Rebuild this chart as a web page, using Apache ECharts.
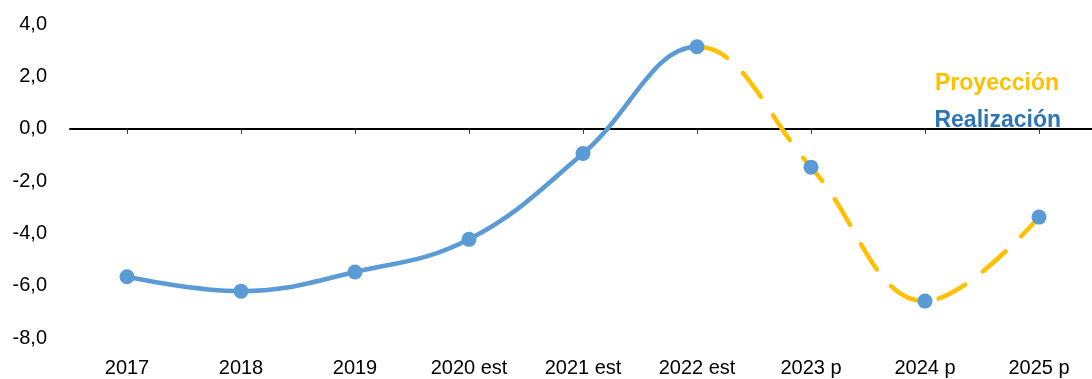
<!DOCTYPE html>
<html>
<head>
<meta charset="utf-8">
<script src="https://cdn.jsdelivr.net/npm/echarts@6/dist/echarts.min.js"></script>
<style>
  html, body { margin: 0; padding: 0; background: #fff; }
  #chart { width: 1092px; height: 379px; }
</style>
</head>
<body>
<div id="chart"></div>
<script>
// Categories and values (one continuous curve: realised part, then projection)
const categories = ['2017', '2018', '2019', '2020 est', '2021 est', '2022 est', '2023 p', '2024 p', '2025 p'];
const values = [-5.66, -6.21, -5.48, -4.23, -0.95, 3.13, -1.47, -6.59, -3.38];
const lastRealIndex = 5; // 2022 est: last realised year, first point of the projection
const yTicks = { min: -8, max: 4, interval: 2 };

const BLUE = '#5B9BD5';
const GOLD = '#FFC000';
const FONT = '"Liberation Sans", Arial, sans-serif';

// Split point of the curve as a fraction of its horizontal extent
const split = lastRealIndex / (values.length - 1);

function splitGradient(before, after) {
  return new echarts.graphic.LinearGradient(0, 0, 1, 0, [
    { offset: 0, color: before },
    { offset: split, color: before },
    { offset: split, color: after },
    { offset: 1, color: after }
  ]);
}

const chart = echarts.init(document.getElementById('chart'), null, { renderer: 'canvas' });

chart.setOption({
  animation: false,
  backgroundColor: '#ffffff',
  grid: { left: 70, top: 24, bottom: 41, width: 1026, containLabel: false, outerBoundsMode: 'none' },
  xAxis: [
    {
      // zero line with ticks
      type: 'category',
      data: categories,
      boundaryGap: true,
      axisLine: { show: true, onZero: true, lineStyle: { color: '#000', width: 2 } },
      axisTick: { show: true, alignWithLabel: true, interval: 0, length: 5, lineStyle: { color: '#333', width: 1 } },
      axisLabel: { show: false },
      splitLine: { show: false }
    },
    {
      // category labels along the bottom
      type: 'category',
      data: categories,
      position: 'bottom',
      boundaryGap: true,
      axisLine: { show: false, onZero: false },
      axisTick: { show: false },
      axisLabel: { show: true, interval: 0, margin: 20, color: '#000', fontSize: 20, fontFamily: FONT },
      splitLine: { show: false }
    }
  ],
  yAxis: {
    type: 'value',
    min: yTicks.min,
    max: yTicks.max,
    interval: yTicks.interval,
    axisLine: { show: false },
    axisTick: { show: false },
    splitLine: { show: false },
    axisLabel: {
      margin: 23,
      color: '#000',
      fontSize: 20,
      fontFamily: FONT,
      formatter: v => v.toFixed(1).replace('.', ',')
    }
  },
  series: [
    {
      // projection: dashed gold, visible only after the last realised year
      name: 'Proyección',
      type: 'line',
      xAxisIndex: 0,
      data: values,
      smooth: 0.4,
      showSymbol: false,
      lineStyle: { color: splitGradient('rgba(255,192,0,0)', GOLD), width: 4.5, type: [30, 22], dashOffset: 20, cap: 'round' },
      z: 2
    },
    {
      // realised values: solid blue up to the last realised year, markers on every year
      name: 'Realización',
      type: 'line',
      xAxisIndex: 0,
      data: values,
      smooth: 0.4,
      symbol: 'circle',
      symbolSize: 15,
      itemStyle: { color: BLUE },
      lineStyle: { color: splitGradient(BLUE, 'rgba(91,155,213,0)'), width: 4.5, cap: 'round' },
      z: 3
    }
  ],
  graphic: [
    {
      type: 'text',
      right: 33,
      top: 72,
      style: { text: 'Proyección', fill: GOLD, font: 'bold 23px ' + FONT }
    },
    {
      type: 'text',
      right: 31,
      top: 109,
      style: { text: 'Realización', fill: '#2E75B6', font: 'bold 23px ' + FONT }
    }
  ]
});
</script>
</body>
</html>
